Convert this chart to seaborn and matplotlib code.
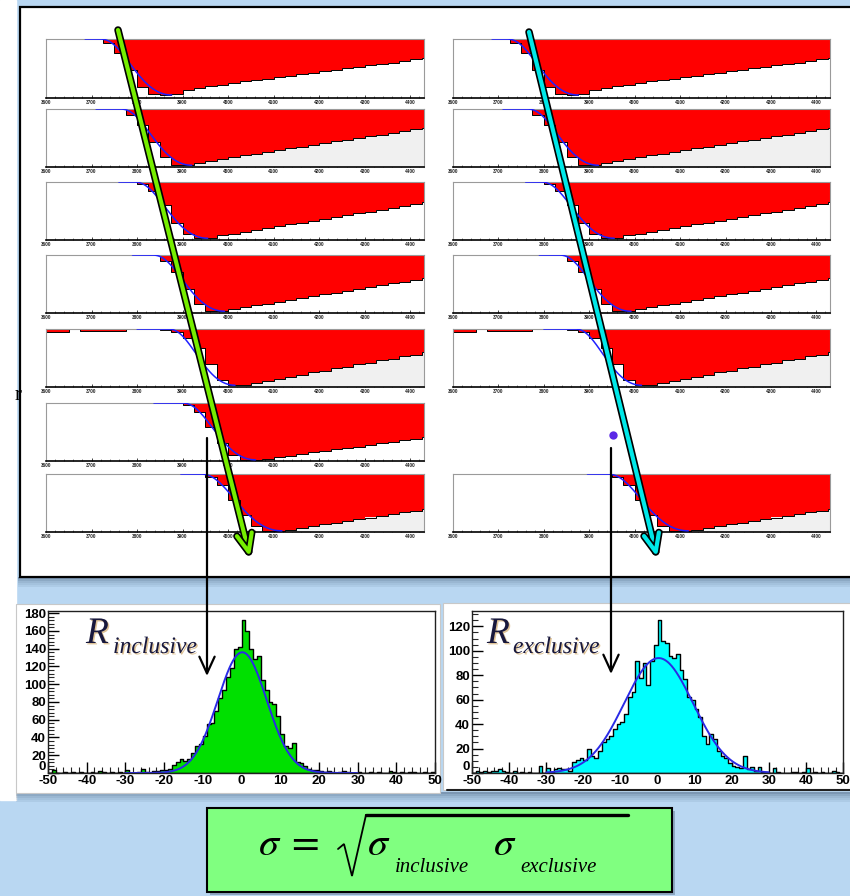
import numpy as np
import pandas as pd
import matplotlib
matplotlib.use("Agg")
import matplotlib.pyplot as plt
import matplotlib.patheffects as pe
from matplotlib.patches import Rectangle
from matplotlib.ticker import MultipleLocator
import seaborn as sns

# ---------------- data ----------------
# digitised pulse samples (25-unit sampling, fraction of full pulse depth)
sample_edges = list(range(3600, 4451, 25))
sample_ticks = [3600, 3700, 3800, 3900, 4000, 4100, 4200, 4300, 4400]

wave_row1 = [0, 0, 0, 0, 0, .06, .23, .53, .82, .94, .95, .94,
             .86, .83, .80, .78, .75, .72, .70, .67, .64, .62, .59, .57,
             .54, .52, .49, .47, .44, .42, .40, .37, .34, .32]
wave_row2 = [0, 0, 0, 0, 0, 0, 0, .10, .28, .57, .83, .97, .97, .93,
             .89, .86, .83, .80, .77, .74, .71, .68, .65, .62, .59, .56,
             .53, .50, .47, .44, .41, .38, .35, .32]
wave_row3 = [0, 0, 0, 0, 0, 0, 0, 0, .04, .16, .40, .70, .90, .97, .96,
             .92, .89, .86, .83, .80, .76, .73, .70, .67, .64, .60, .57,
             .54, .51, .48, .44, .41, .38, .35]
wave_row4 = [0, 0, 0, 0, 0, 0, 0, 0, 0, 0, .10, .30, .58, .85, .97, .96,
             .93, .90, .87, .84, .81, .78, .74, .71, .68, .65, .62, .59,
             .55, .52, .49, .46, .43, .40]
wave_row5 = [.05, .05, 0, .04, .04, .04, .04, 0, 0, 0, .02, .05,
             .16, .32, .61, .88, .97, .96,
             .93, .89, .86, .82, .79, .75, .72, .68, .65, .61, .58, .54,
             .51, .47, .44, .40]
wave_row6 = [0, 0, 0, 0, 0, 0, 0, 0, 0, 0, 0, 0,
             .03, .15, .42, .69, .89, .98, .98,
             .96, .93, .91, .88, .85, .83, .80, .77, .75, .72, .69, .67,
             .64, .62, .59]
wave_row7 = [0, 0, 0, 0, 0, 0, 0, 0, 0, 0, 0, 0, 0, 0,
             .05, .19, .45, .70, .90, .98, .98,
             .96, .93, .90, .87, .84, .81, .78, .75, .72, .69, .66, .63, .60]
waves = [wave_row1, wave_row2, wave_row3, wave_row4, wave_row5, wave_row6, wave_row7]

# leading-edge fit results per row
fit_onset = [3715, 3760, 3790, 3830, 3865, 3895, 3935]
fit_peak = [3876, 3920, 3955, 3992, 4015, 4060, 4118]
fit_amp = [0.95, 0.97, 0.97, 0.97, 0.97, 0.98, 0.98]
fit_from = [3686, 3710, 3760, 3790, 3800, 3837, 3896]
grey_tail = [False, True, False, False, True, False, True]

# residual histograms (1-unit bins from -50 to 50)
hist_edges = list(range(-50, 51))
incl_counts = [0, 3, 0, 0, 1, 0, 1, 0, 1, 0,
               0, 1, 0, 2, 1, 0, 1, 0, 1, 0,
               3, 0, 0, 1, 4, 1, 0, 2, 2, 3,
               3, 5, 9, 12, 16, 13, 16, 22, 30, 33,
               42, 55, 56, 70, 84, 93, 108, 118, 140, 142,
               172, 160, 140, 128, 132, 105, 94, 80, 78, 64,
               44, 30, 28, 34, 12, 11, 8, 5, 3, 3,
               2, 1, 2, 1, 0, 1, 2, 1, 0, 0,
               1, 0, 0, 1, 0, 1, 0, 0, 2, 1,
               0, 1, 0, 1, 1, 0, 0, 1, 0, 1]
excl_counts = [0, 2, 1, 2, 1, 2, 2, 3, 2, 1,
               0, 2, 0, 1, 0, 1, 0, 0, 6, 0,
               4, 1, 3, 4, 3, 3, 2, 9, 11, 12,
               11, 20, 14, 12, 18, 25, 28, 30, 36, 40,
               42, 48, 62, 66, 92, 78, 90, 72, 92, 105,
               125, 108, 106, 96, 94, 97, 84, 77, 62, 60,
               52, 46, 30, 24, 32, 28, 18, 14, 12, 8,
               6, 5, 4, 14, 3, 5, 2, 5, 1, 1,
               0, 4, 1, 0, 0, 0, 1, 1, 0, 1,
               4, 0, 1, 0, 1, 0, 0, 2, 1, 0]
incl_fit = (136.0, 0.2, 6.3)   # amplitude, mean, sigma
excl_fit = (94.0, 0.3, 9.3)
incl_yticks = [0, 20, 40, 60, 80, 100, 120, 140, 160, 180]
excl_yticks = [0, 20, 40, 60, 80, 100, 120]
hist_xticks = [-50, -40, -30, -20, -10, 0, 10, 20, 30, 40, 50]

# ---------------- style ----------------
W, H = 850, 896
sns.set_theme(style="ticks")
plt.rcParams["font.family"] = ["Liberation Sans", "DejaVu Sans"]
plt.rcParams["mathtext.fontset"] = "stix"

SKY = "#B9D7F2"
fig = plt.figure(figsize=(W / 100, H / 100), dpi=100, facecolor=SKY)


def px_axes(x0, y0, x1, y1, **kw):
    return fig.add_axes([x0 / W, 1 - y1 / H, (x1 - x0) / W, (y1 - y0) / H], **kw)


# background layer in pixel coordinates
bg = fig.add_axes([0, 0, 1, 1], zorder=-10)
bg.set_xlim(0, W)
bg.set_ylim(H, 0)
bg.axis("off")
bg.add_patch(Rectangle((0, 0), W, H, color=SKY, zorder=0))
bg.add_patch(Rectangle((0, 0), 16, 800, color="white", zorder=1))
# shadow of the waveform sheet
for i, a in enumerate([0.55, 0.4, 0.28, 0.18, 0.1]):
    bg.add_patch(Rectangle((18, 577 + 2 * i), 840, 2, color="#4A6480", alpha=a, lw=0, zorder=1))
bg.add_patch(Rectangle((20, 7), 840, 570, facecolor="white", edgecolor="black", lw=1.6, zorder=2))

# white cards behind the histograms
for i, a in enumerate([0.55, 0.4, 0.28, 0.18, 0.1]):
    bg.add_patch(Rectangle((16, 792 + 2 * i), 840, 2, color="#4A6480", alpha=a, lw=0, zorder=1))
bg.add_patch(Rectangle((16, 604), 424, 189, facecolor="white", edgecolor="#C8C8C8", lw=0.8, zorder=2))
bg.add_patch(Rectangle((443, 603), 420, 187, facecolor="white", edgecolor="#C8C8C8", lw=0.8, zorder=2))
bg.plot([447, 850], [790.5, 790.5], color="#202020", lw=1.5, zorder=3)


# ---------------- waveform panels ----------------
def pulse_fit(t, k):
    x = np.clip((t - fit_onset[k]) / (fit_peak[k] - fit_onset[k]), 0, None)
    return fit_amp[k] * x ** 3 * np.exp(3 * (1 - x))


def draw_wave(ax, k):
    edges = np.array(sample_edges, float)
    v = -np.array(waves[k], float)
    yy = np.append(v, v[-1])
    ax.fill_between(edges, 0, yy, step="post", color="#FF0000", lw=0, zorder=1)
    if grey_tail[k]:
        i0 = int(np.argmin(v))
        ax.fill_between(edges[i0:], yy[i0:], -1.0, step="post", color="#F0F0F0", lw=0, zorder=1)
    ax.step(edges, yy, where="post", color="black", lw=0.7, zorder=2)
    t = np.linspace(fit_from[k], fit_peak[k], 150)
    sns.lineplot(x=t, y=-pulse_fit(t, k), ax=ax, color="#2020FF", lw=1.1, zorder=3)
    ax.set_xlim(3600, 4430)
    ax.set_ylim(-1.0, 0.0)
    ax.set_xlabel("")
    ax.set_ylabel("")
    ax.set_yticks([])
    ax.set_xticks(sample_ticks)
    ax.set_xticklabels([str(s) for s in sample_ticks], fontsize=3.4, color="#222222",
                       fontweight="bold")
    ax.xaxis.set_minor_locator(MultipleLocator(20))
    ax.tick_params(axis="x", which="major", direction="in", length=2.5, width=0.6,
                   pad=1.2, bottom=True, top=False)
    ax.tick_params(axis="x", which="minor", direction="in", length=1.3, width=0.4,
                   bottom=True, top=False)
    for s in ["top", "left", "right"]:
        ax.spines[s].set_color("#9A9A9A")
        ax.spines[s].set_linewidth(0.8)
    ax.spines["bottom"].set_color("black")
    ax.spines["bottom"].set_linewidth(1.2)
    ax.set_facecolor("white")


row_top = [39, 109, 182, 255, 329, 403, 474]
row_bot = [98, 167, 240, 313, 387, 461, 532]
for k in range(7):
    draw_wave(px_axes(46, row_top[k], 424, row_bot[k]), k)
    if k != 5:
        draw_wave(px_axes(453, row_top[k], 830, row_bot[k]), k)


# ---------------- residual histograms ----------------
def draw_hist(ax, counts, fit, color, ymax, yticks, yminor):
    centers = np.array(hist_edges[:-1]) + 0.5
    df = pd.DataFrame({"R": centers, "n": counts})
    sns.histplot(data=df, x="R", weights="n", bins=hist_edges, element="step",
                 fill=True, color=color, alpha=1, edgecolor="black", linewidth=1.0, ax=ax)
    amp, mu, sig = fit
    xs = np.linspace(-30, 30, 400)
    sns.lineplot(x=xs, y=amp * np.exp(-0.5 * ((xs - mu) / sig) ** 2), ax=ax,
                 color="#2A2AE6", lw=1.4)
    ax.set_xlim(-50, 50)
    ax.set_ylim(0, ymax)
    ax.set_xlabel("")
    ax.set_ylabel("")
    ax.set_xticks(hist_xticks)
    ax.set_xticklabels([str(v) for v in hist_xticks], fontweight="bold")
    ax.set_yticks(yticks)
    ylabels = ax.set_yticklabels([str(v) for v in yticks], fontweight="bold")
    ylabels[0].set_verticalalignment("bottom")
    ax.xaxis.set_minor_locator(MultipleLocator(2))
    ax.yaxis.set_minor_locator(MultipleLocator(yminor))
    ax.tick_params(which="major", direction="in", length=8, width=1.0, labelsize=9.5,
                   pad=1.5, colors="black", left=True, bottom=True, top=False, right=False)
    ax.tick_params(which="minor", direction="in", length=4, width=0.8,
                   left=True, bottom=True, top=False, right=False)
    for s in ax.spines.values():
        s.set_color("#202020")
        s.set_linewidth(1.0)
    ax.set_facecolor("white")


draw_hist(px_axes(48, 611, 435, 773), incl_counts, incl_fit, "#00E000", 182.5, incl_yticks, 4)
draw_hist(px_axes(472, 611, 843, 773), excl_counts, excl_fit, "#00FFFF", 132.5, excl_yticks, 5)

# ---------------- overlay: labels, arrows, formula ----------------
ov = fig.add_axes([0, 0, 1, 1], zorder=10)
ov.set_xlim(0, W)
ov.set_ylim(H, 0)
ov.axis("off")
ov.patch.set_alpha(0)

glow = [pe.withSimplePatchShadow(offset=(1.0, -1.0), shadow_rgbFace="#C89A50", alpha=0.6)]
navy = "#18183C"
for x_r, x_s, word in [(86, 113, "inclusive"), (487, 513, "exclusive")]:
    ov.text(x_r, 643, "R", fontsize=27, fontstyle="italic", family="Liberation Serif",
            color=navy, va="baseline", path_effects=glow)
    ov.text(x_s, 653, word, fontsize=17, fontstyle="italic", family="Liberation Serif",
            color=navy, va="baseline", path_effects=glow)

outline = [pe.Stroke(linewidth=5.4, foreground="black"), pe.Normal()]
ov.annotate("", xy=(250, 557), xytext=(118, 30),
            arrowprops=dict(arrowstyle="->,head_length=1.3,head_width=0.55", color="#76EE00",
                            lw=3.0, shrinkA=0, shrinkB=0, mutation_scale=10, path_effects=outline))
ov.annotate("", xy=(657, 557), xytext=(529, 32),
            arrowprops=dict(arrowstyle="->,head_length=1.3,head_width=0.55", color="#00E8E8",
                            lw=3.0, shrinkA=0, shrinkB=0, mutation_scale=10, path_effects=outline))

for x, y0, y1 in [(207, 438, 676), (611, 448, 674)]:
    ov.annotate("", xy=(x, y1), xytext=(x, y0),
                arrowprops=dict(arrowstyle="->,head_length=1.2,head_width=0.55", color="black",
                                lw=1.6, shrinkA=0, shrinkB=0, mutation_scale=10))
ov.plot([613], [435], "o", color="#5A28E6", ms=6, mec="none")
ov.text(15, 396, "r", fontsize=15, color="black", family="Liberation Serif", va="center")

# formula card
bg.add_patch(Rectangle((210, 811), 465, 84, color="#3C5068", alpha=0.35, lw=0, zorder=2))
bg.add_patch(Rectangle((207, 808), 465, 84, facecolor="#80FF80", edgecolor="black", lw=1.5, zorder=3))
ov.text(258, 855, r"$\sigma\;=$", fontsize=29, color="black", va="baseline")
ov.plot([338, 344, 352, 366, 628], [849, 844, 876, 815, 815], color="black", lw=1.3,
        solid_joinstyle="miter")
ov.plot([366, 628], [815.5, 815.5], color="black", lw=2.4)
ov.text(367, 855, r"$\sigma$", fontsize=29, color="black", va="baseline")
ov.text(493, 855, r"$\sigma$", fontsize=29, color="black", va="baseline")
ov.text(395, 872, "inclusive", fontsize=15, fontstyle="italic", family="Liberation Serif",
        color="black", va="baseline")
ov.text(520, 872, "exclusive", fontsize=15, fontstyle="italic", family="Liberation Serif",
        color="black", va="baseline")

fig.savefig("out.png", dpi=100, facecolor=SKY)
